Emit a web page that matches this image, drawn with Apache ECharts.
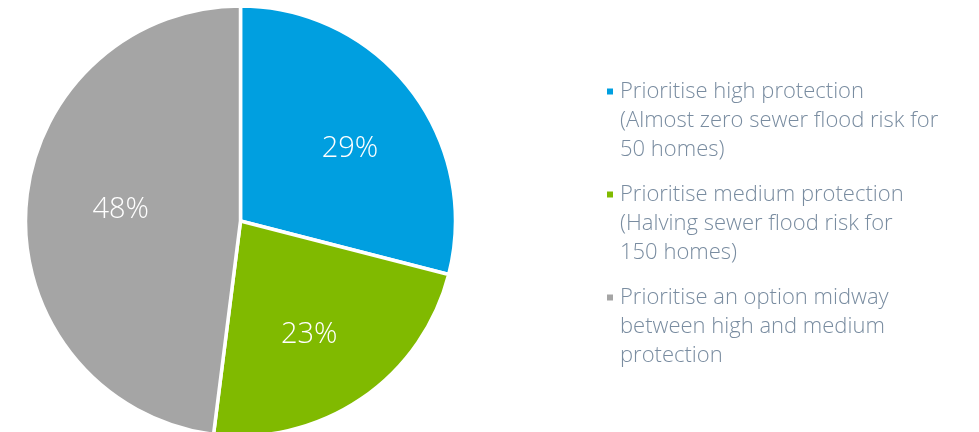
<!DOCTYPE html>
<html>
<head>
<meta charset="utf-8">
<script src="https://cdn.jsdelivr.net/npm/echarts@6/dist/echarts.min.js"></script>
<style>
  html, body { margin: 0; padding: 0; background: #ffffff; }
  #chart { width: 979px; height: 432px; }
</style>
</head>
<body>
<div id="chart"></div>
<script>
// Survey result: share of respondents for each protection option
const categories = [
  'Prioritise high protection\n(Almost zero sewer flood risk for\n50 homes)',
  'Prioritise medium protection\n(Halving sewer flood risk for\n150 homes)',
  'Prioritise an option midway\nbetween high and medium\nprotection'
];
const shares = [29, 23, 48];
const sliceColors = ['#009fe0', '#80ba00', '#a5a5a5'];
// nudges for the percentage labels inside each slice
const labelOffsets = [[6, 8], [-5, 5], [11, -3]];

const pieData = categories.map((name, i) => ({
  name: name,
  value: shares[i],
  itemStyle: { color: sliceColors[i] }
}));

const chart = echarts.init(document.getElementById('chart'), null, { renderer: 'canvas' });

chart.setOption({
  animation: false,
  backgroundColor: '#ffffff',
  legend: {
    orient: 'vertical',
    left: 600,
    top: 14,
    icon: 'rect',
    itemWidth: 8,
    itemHeight: 8,
    itemGap: -42,
    selectedMode: false,
    // two leading blank lines keep the marker level with the first text line
    formatter: name => '\n\n' + name,
    textStyle: {
      fontFamily: 'Open Sans',
      fontWeight: 300,
      fontSize: 22,
      lineHeight: 29,
      color: '#798ca0',
      padding: [0, 0, 0, 1]
    },
    data: categories
  },
  series: [
    {
      type: 'pie',
      center: [240.5, 221],
      radius: 215,
      startAngle: 90,
      clockwise: true,
      silent: true,
      itemStyle: { borderColor: '#ffffff', borderWidth: 3.5 },
      label: { show: false },
      labelLine: { show: false },
      data: pieData
    },
    {
      // transparent ring used to place the percentage labels
      type: 'pie',
      center: [240.5, 221],
      radius: [42, 214],
      startAngle: 90,
      clockwise: true,
      silent: true,
      legendHoverLink: false,
      itemStyle: { color: 'rgba(0,0,0,0)' },
      label: {
        show: true,
        position: 'inside',
        formatter: '{c}%',
        color: '#ffffff',
        fontFamily: 'Open Sans',
        fontWeight: 300,
        fontSize: 29
      },
      labelLine: { show: false },
      data: categories.map((name, i) => ({
        name: name + ' ',
        value: shares[i],
        label: { offset: labelOffsets[i] }
      }))
    }
  ]
});
</script>
</body>
</html>
